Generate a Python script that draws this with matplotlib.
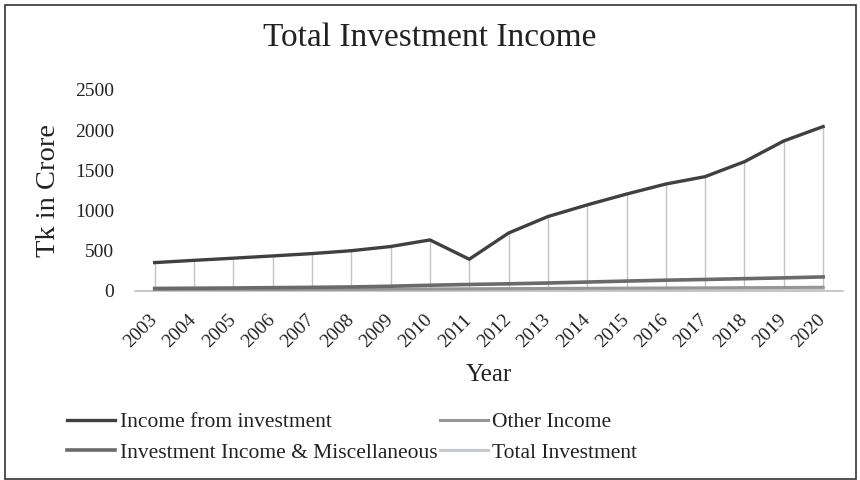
import matplotlib
matplotlib.use("Agg")
import matplotlib.pyplot as plt
from matplotlib.patches import Rectangle
import numpy as np

plt.rcParams['font.family'] = ['Liberation Serif', 'DejaVu Serif']

years = ['2003', '2004', '2005', '2006', '2007', '2008', '2009', '2010', '2011',
         '2012', '2013', '2014', '2015', '2016', '2017', '2018', '2019', '2020']

income_from_investment = [352, 380, 407, 435, 464, 500, 552, 634, 394,
                          720, 925, 1070, 1205, 1330, 1422, 1608, 1866, 2045]
other_income = [15, 16, 17, 18, 19, 20, 22, 24, 26,
                28, 30, 32, 34, 36, 38, 40, 42, 45]
investment_income_misc = [30, 33, 36, 40, 44, 49, 58, 70, 80,
                          88, 98, 110, 122, 133, 142, 152, 162, 174]
total_investment = [5, 6, 6, 7, 8, 9, 10, 11, 12,
                    13, 14, 15, 16, 17, 18, 20, 22, 25]

fig = plt.figure(figsize=(8.6, 4.8), dpi=100)
ax = fig.add_axes([0.157, 0.394, 0.823, 0.4185])

x = np.arange(len(years))

# drop lines from the main series
ax.vlines(x, 0, income_from_investment, color='#c3c3c3', lw=1, zorder=1)

h1, = ax.plot(x, income_from_investment, color='#404040', lw=2.4, zorder=5,
              label='Income from investment')
h3, = ax.plot(x, total_investment, color='#c6cacf', lw=2.2, zorder=2,
              label='Total Investment')
h2, = ax.plot(x, other_income, color='#969696', lw=2.2, zorder=3,
              label='Other Income')
h4, = ax.plot(x, investment_income_misc, color='#6a6a6a', lw=2.6, zorder=4,
              label='Investment Income & Miscellaneous')

ax.set_xlim(-0.5, len(years) - 0.5)
ax.set_ylim(0, 2500)
ax.set_yticks([0, 500, 1000, 1500, 2000, 2500])
ax.set_xticks(x)
ax.set_xticklabels(years, rotation=45, ha='right', va='center',
                   rotation_mode='anchor')
ax.tick_params(axis='both', length=0, labelsize=14, colors='#222222')
ax.tick_params(axis='y', pad=15)
ax.tick_params(axis='x', pad=19)

for s in ['top', 'right', 'left']:
    ax.spines[s].set_visible(False)
ax.spines['bottom'].set_color('#bfbfbf')
ax.spines['bottom'].set_linewidth(1.2)

ax.set_ylabel('Tk in Crore', fontsize=20.5, color='#222222', labelpad=10)
ax.set_xlabel('Year', fontsize=18, color='#222222', labelpad=9)
fig.text(0.5, 1 - 38 / 480, 'Total Investment Income', ha='center', va='center',
         fontsize=24, color='#222222')

fig.legend(handles=[h1, h4, h2, h3], ncol=2, loc='center left',
           bbox_to_anchor=(67 / 860, 1 - 437.5 / 480), frameon=False,
           fontsize=15.5, handlelength=2.25, handletextpad=0.2, columnspacing=0.1,
           labelspacing=0.5, borderpad=0, borderaxespad=0, labelcolor='#222222')

fig.patches.append(Rectangle((5 / 860, 1 / 480), 851 / 860, 474 / 480,
                             transform=fig.transFigure, fill=False,
                             edgecolor='#333333', lw=1.2))

fig.savefig('out.png', dpi=100)
